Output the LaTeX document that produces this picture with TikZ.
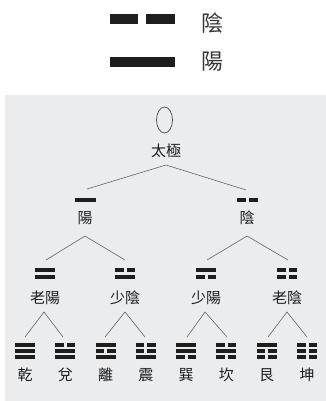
\documentclass[tikz,border=0pt]{standalone}
\usepackage{fontspec}
\usetikzlibrary{shapes.geometric}
\newfontfamily\cjk{Noto Sans CJK TC}
\definecolor{bgray}{RGB}{235,236,238}
\definecolor{ink}{RGB}{30,30,30}
\definecolor{lgray}{RGB}{100,100,100}
\tikzset{
  bar/.style={fill=ink,draw=none},
  conn/.style={draw=lgray,line width=0.6pt},
  lbl/.style={font=\cjk\fontsize{15}{15}\selectfont,text=ink,inner sep=0pt},
  leg/.style={font=\cjk\fontsize{22}{22}\selectfont,text=ink!90,inner sep=0pt}
}
% yang bar: center x, top y, width, height
\newcommand{\yangbar}[4]{\fill[bar] (#1-#3/2,#2) rectangle (#1+#3/2,#2+#4);}
% yin bar: center x, top y, width, height, gap
\newcommand{\yinbar}[5]{\fill[bar] (#1-#3/2,#2) rectangle (#1-#5/2,#2+#4);
  \fill[bar] (#1+#5/2,#2) rectangle (#1+#3/2,#2+#4);}
% line of a gua: type (1 yang / 0 yin), center x, top y, width, height, gap
\newcommand{\gualine}[6]{\ifnum#1=1 \yangbar{#2}{#3}{#4}{#5}\else\yinbar{#2}{#3}{#4}{#5}{#6}\fi}
\begin{document}
\begin{tikzpicture}[x=1pt,y=-1pt]
\useasboundingbox (0,0) rectangle (326,401);
\fill[white] (0,0) rectangle (326,401);
% background panel
\fill[bgray] (5,95) rectangle (326,401);

% legend
\yinbar{142}{14}{65}{10}{8}
\node[leg] (legyin) at (212,23) {陰};
\yangbar{142}{57}{65}{10}
\node[leg] (legyang) at (212,62) {陽};

% root
\node[draw=ink!80,line width=0.7pt,ellipse,minimum width=16pt,minimum height=26pt,inner sep=0pt] (wuji) at (164.5,120) {};
\node[lbl] (taiji) at (166,151) {太極};
\coordinate (a0) at (166,165);

% level 1
\yangbar{85.5}{198}{21}{4}
\yinbar{247}{198}{21}{4}{3}
\coordinate (b1a) at (87,189);
\coordinate (b1b) at (246,190);
\node[lbl] (yang) at (85,218) {陽};
\node[lbl] (yin) at (247,218) {陰};
\coordinate (a1a) at (85,236);
\coordinate (a1b) at (247,236);
\draw[conn] (b1a) -- (a0) -- (b1b);

% level 2 digrams
\foreach \x/\p/\q in {45/1/1,125/0/1,206/1/0,287/0/0}{
  \gualine{\p}{\x}{268}{20}{4}{3}
  \gualine{\q}{\x}{275}{20}{4}{3}
}
\coordinate (b2a) at (46,260);
\coordinate (b2b) at (125,260);
\coordinate (b2c) at (207,260);
\coordinate (b2d) at (288,260);
\draw[conn] (b2a) -- (a1a) -- (b2b);
\draw[conn] (b2c) -- (a1b) -- (b2d);
\node[lbl] (laoyang) at (45,298) {老陽};
\node[lbl] (shaoyin) at (125,298) {少陰};
\node[lbl] (shaoyang) at (206,298) {少陽};
\node[lbl] (laoyin) at (287,298) {老陰};
\coordinate (a2a) at (44,312);
\coordinate (a2b) at (125,312);
\coordinate (a2c) at (205,312);
\coordinate (a2d) at (287,312);

% level 3 trigrams
\foreach \x/\p/\q/\r in {25/1/1/1,65.3/0/1/1,105.6/1/0/1,145.9/0/0/1,186.1/1/1/0,226.4/0/1/0,266.7/1/0/0,307/0/0/0}{
  \gualine{\p}{\x}{343.3}{20}{4}{3}
  \gualine{\q}{\x}{349.3}{20}{4}{3}
  \gualine{\r}{\x}{355.3}{20}{4}{3}
}
\coordinate (c1) at (25,337);
\coordinate (c2) at (63,337);
\coordinate (c3) at (105,337);
\coordinate (c4) at (145,337);
\coordinate (c5) at (187,337);
\coordinate (c6) at (227,337);
\coordinate (c7) at (268,337);
\coordinate (c8) at (307,337);
\draw[conn] (c1) -- (a2a) -- (c2);
\draw[conn] (c3) -- (a2b) -- (c4);
\draw[conn] (c5) -- (a2c) -- (c6);
\draw[conn] (c7) -- (a2d) -- (c8);
\node[lbl] (qian) at (25,375) {乾};
\node[lbl] (dui) at (65.3,375) {兌};
\node[lbl] (li) at (105.6,375) {離};
\node[lbl] (zhen) at (145.9,375) {震};
\node[lbl] (xun) at (186.1,375) {巽};
\node[lbl] (kan) at (226.4,375) {坎};
\node[lbl] (gen) at (266.7,375) {艮};
\node[lbl] (kun) at (307,375) {坤};
\end{tikzpicture}
\end{document}
